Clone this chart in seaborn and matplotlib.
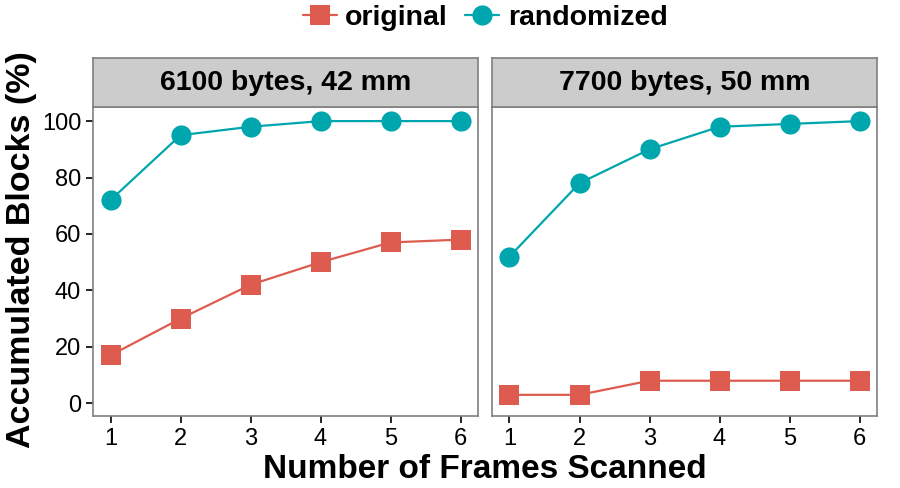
import numpy as np
import pandas as pd
import matplotlib
matplotlib.use('Agg')
import matplotlib.pyplot as plt
import seaborn as sns
from matplotlib.lines import Line2D

# data
frames = [1, 2, 3, 4, 5, 6]
panels = ['6100 bytes, 42 mm', '7700 bytes, 50 mm']
orig_6100 = [17, 30, 42, 50, 57, 58]
rand_6100 = [72, 95, 98, 100, 100, 100]
orig_7700 = [3, 3, 8, 8, 8, 8]
rand_7700 = [52, 78, 90, 98, 99, 100]

rows = []
for panel, orig, rand in [(panels[0], orig_6100, rand_6100), (panels[1], orig_7700, rand_7700)]:
    for f, o, r in zip(frames, orig, rand):
        rows.append([panel, f, o, 'original'])
        rows.append([panel, f, r, 'randomized'])
df = pd.DataFrame(rows, columns=['panel', 'frames', 'blocks', 'type'])

sns.set_theme(style='white')
plt.rcParams['font.family'] = ['Liberation Sans', 'DejaVu Sans']
plt.rcParams['text.color'] = 'black'

palette = {'original': '#DE5B50', 'randomized': '#00A6AD'}
markers = {'original': 's', 'randomized': 'o'}
msize = {'original': 15, 'randomized': 14.5}

fig = plt.figure(figsize=(9, 4.88), dpi=100)
W, H = 900, 488
ax_l = fig.add_axes([93 / W, 1 - 416 / H, 385 / W, 309 / H])
ax_r = fig.add_axes([492 / W, 1 - 416 / H, 385 / W, 309 / H], sharey=ax_l)

for ax, panel in zip([ax_l, ax_r], panels):
    sub = df[df['panel'] == panel]
    for k in ['original', 'randomized']:
        sns.lineplot(data=sub[sub['type'] == k], x='frames', y='blocks',
                     color=palette[k], marker=markers[k], markersize=msize[k],
                     markeredgewidth=0, linewidth=1.6, ax=ax, legend=False)
    ax.set_xlim(0.75, 6.25)
    ax.set_ylim(-4.5, 105)
    ax.set_xticks(frames)
    ax.set_yticks([0, 20, 40, 60, 80, 100])
    ax.set_xlabel('')
    ax.set_ylabel('')
    for s in ax.spines.values():
        s.set_color('#7f7f7f')
        s.set_linewidth(1.2)
    ax.tick_params(axis='both', direction='out', length=5, width=1.2, color='black',
                   labelsize=17, labelcolor='black', bottom=True, left=True)
    # strip
    strip = ax.inset_axes([0, 1.0, 1, 49 / 309])
    strip.set_facecolor('#cccccc')
    strip.set_xticks([])
    strip.set_yticks([])
    for s in strip.spines.values():
        s.set_color('#7f7f7f')
        s.set_linewidth(1.2)
    strip.text(0.5, 0.5, panel, ha='center', va='center', fontsize=20.5,
               fontweight='bold', color='black', transform=strip.transAxes)

ax_r.tick_params(axis='y', left=False, labelleft=False)

fig.text(485 / W, 1 - 470 / H, 'Number of Frames Scanned', ha='center', va='center',
         fontsize=24, fontweight='bold')
fig.text(22 / W, 1 - 250 / H, 'Accumulated Blocks (%)', ha='center', va='center',
         rotation=90, fontsize=24.5, fontweight='bold')

handles = [Line2D([], [], color=palette[k], marker=markers[k], markersize=msize[k],
                  markeredgewidth=0, linewidth=1.6) for k in ['original', 'randomized']]
fig.legend(handles, ['original', 'randomized'], loc='center', ncol=2,
           bbox_to_anchor=(485 / W, 1 - 18 / H), frameon=False,
           prop={'size': 20.5, 'weight': 'bold'}, handlelength=1.2,
           handletextpad=0.3, columnspacing=0.6)

fig.savefig('out.png', dpi=100)
